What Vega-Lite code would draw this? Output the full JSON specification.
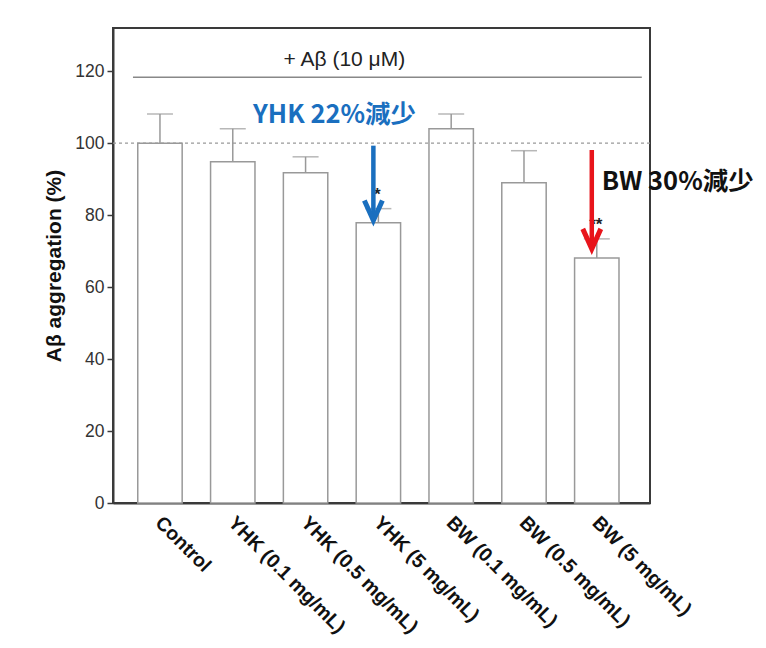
{
  "$schema": "https://vega.github.io/schema/vega-lite/v6.json",
  "autosize": {"type": "none"},
  "padding": {"left": 113, "top": 28, "right": 116, "bottom": 145},
  "width": 537,
  "height": 475,
  "background": "white",
  "config": {
    "view": {"stroke": "#3a3a3a", "strokeWidth": 2},
    "font": "Liberation Sans"
  },
  "datasets": {
    "bars": [
      {"group": "Control", "mean": 100, "upper": 108.1},
      {"group": "YHK (0.1 mg/mL)", "mean": 94.8, "upper": 104},
      {"group": "YHK (0.5 mg/mL)", "mean": 91.8, "upper": 96.2},
      {"group": "YHK (5 mg/mL)", "mean": 77.9, "upper": 81.8},
      {"group": "BW (0.1 mg/mL)", "mean": 104, "upper": 108.1},
      {"group": "BW (0.5 mg/mL)", "mean": 89, "upper": 97.9},
      {"group": "BW (5 mg/mL)", "mean": 68.1, "upper": 73.4}
    ],
    "arrows": [
      {"group": "YHK (5 mg/mL)", "series": "YHK", "start": 99.3, "end": 79, "head": 81.3},
      {"group": "BW (5 mg/mL)", "series": "BW", "start": 98.1, "end": 71.3, "head": 73.4}
    ],
    "stars": [
      {"group": "YHK (5 mg/mL)", "y": 85.6, "label": "*"},
      {"group": "BW (5 mg/mL)", "y": 77.2, "label": "**"}
    ]
  },
  "encoding": {
    "x": {
      "field": "group",
      "type": "nominal",
      "sort": null,
      "scale": {"paddingInner": 0.39, "paddingOuter": 0.383, "align": 0.444},
      "axis": {
        "title": null,
        "labelAngle": 45,
        "labelFontSize": 19.5,
        "labelFontWeight": "bold",
        "labelColor": "#111",
        "labelPadding": 10,
        "labelOffset": 5,
        "ticks": false,
        "domainColor": "#3a3a3a",
        "domainWidth": 2,
        "labelLimit": 300
      }
    }
  },
  "layer": [
    {
      "data": {"name": "bars"},
      "mark": {"type": "rule", "color": "#999", "strokeWidth": 1.5},
      "encoding": {
        "y": {
          "field": "mean",
          "type": "quantitative",
          "scale": {"domain": [0, 132], "nice": false},
          "axis": {
            "title": "Aβ aggregation (%)",
            "titleFontSize": 21,
            "titleFontWeight": "bold",
            "titleColor": "#111",
            "titlePadding": 10,
            "values": [0, 20, 40, 60, 80, 100, 120],
            "labelFontSize": 17.5,
            "labelColor": "#333",
            "labelPadding": 3,
            "tickSize": 6,
            "tickColor": "#3a3a3a",
            "tickWidth": 1.5,
            "domainColor": "#3a3a3a",
            "domainWidth": 2,
            "grid": false
          }
        },
        "y2": {"field": "upper"}
      }
    },
    {
      "data": {"name": "bars"},
      "mark": {"type": "tick", "orient": "horizontal", "color": "#999", "thickness": 1.5, "size": 26},
      "encoding": {"y": {"field": "upper", "type": "quantitative"}}
    },
    {
      "data": {"name": "bars"},
      "mark": {"type": "bar", "fill": "white", "stroke": "#999", "strokeWidth": 1.5},
      "encoding": {"y": {"field": "mean", "type": "quantitative"}}
    },
    {
      "data": {"values": [{"ref": 100}]},
      "mark": {"type": "rule", "color": "#999", "strokeDash": [3, 3], "strokeWidth": 1.2},
      "encoding": {"y": {"field": "ref", "type": "quantitative"}, "x": null}
    },
    {
      "data": {"values": [{"from": "Control", "to": "BW (5 mg/mL)", "y": 118.3}]},
      "mark": {"type": "rule", "color": "#888", "strokeWidth": 1.5, "xOffset": -27, "x2Offset": 45},
      "encoding": {
        "x": {"field": "from", "type": "nominal"},
        "x2": {"field": "to"},
        "y": {"field": "y", "type": "quantitative"}
      }
    },
    {
      "data": {"values": [{"group": "YHK (5 mg/mL)", "y": 123.1, "label": "+ Aβ (10 μM)"}]},
      "mark": {"type": "text", "fontSize": 21, "color": "#222", "dx": -34, "baseline": "middle"},
      "encoding": {
        "x": {"field": "group", "type": "nominal"},
        "y": {"field": "y", "type": "quantitative"},
        "text": {"field": "label"}
      }
    },
    {
      "data": {"name": "stars"},
      "mark": {"type": "text", "fontSize": 17, "fontWeight": "bold", "color": "#222", "baseline": "middle", "dx": -1},
      "encoding": {
        "x": {"field": "group", "type": "nominal"},
        "y": {"field": "y", "type": "quantitative"},
        "text": {"field": "label"}
      }
    },
    {
      "data": {"name": "arrows"},
      "mark": {"type": "rule", "strokeWidth": 4.5, "xOffset": -5},
      "encoding": {
        "x": {"field": "group", "type": "nominal"},
        "y": {"field": "start", "type": "quantitative"},
        "y2": {"field": "end"},
        "color": {"field": "series", "type": "nominal", "scale": {"domain": ["YHK", "BW"], "range": ["#1a6fbf", "#e8141b"]}, "legend": null}
      }
    },
    {
      "data": {"name": "arrows"},
      "mark": {"type": "point", "shape": "M-0.9,-1L0,1L0.9,-1", "filled": false, "strokeWidth": 5, "size": 400, "xOffset": -5, "opacity": 1},
      "encoding": {
        "x": {"field": "group", "type": "nominal"},
        "y": {"field": "head", "type": "quantitative"},
        "color": {"field": "series", "type": "nominal", "legend": null}
      }
    },
    {
      "data": {"values": [{"group": "YHK (0.5 mg/mL)", "y": 107.9, "label": "YHK 22%減少"}]},
      "mark": {"type": "text", "font": "Noto Sans CJK TC", "fontWeight": "bold", "fontSize": 25.5, "color": "#1a6fbf", "dx": 29, "baseline": "middle"},
      "encoding": {
        "x": {"field": "group", "type": "nominal"},
        "y": {"field": "y", "type": "quantitative"},
        "text": {"field": "label"}
      }
    },
    {
      "data": {"values": [{"group": "BW (5 mg/mL)", "y": 89.3, "label": "BW 30%減少"}]},
      "mark": {"type": "text", "font": "Noto Sans CJK TC", "fontWeight": "bold", "fontSize": 25.5, "color": "#111", "dx": 5, "align": "left", "baseline": "middle"},
      "encoding": {
        "x": {"field": "group", "type": "nominal"},
        "y": {"field": "y", "type": "quantitative"},
        "text": {"field": "label"}
      }
    }
  ]
}
